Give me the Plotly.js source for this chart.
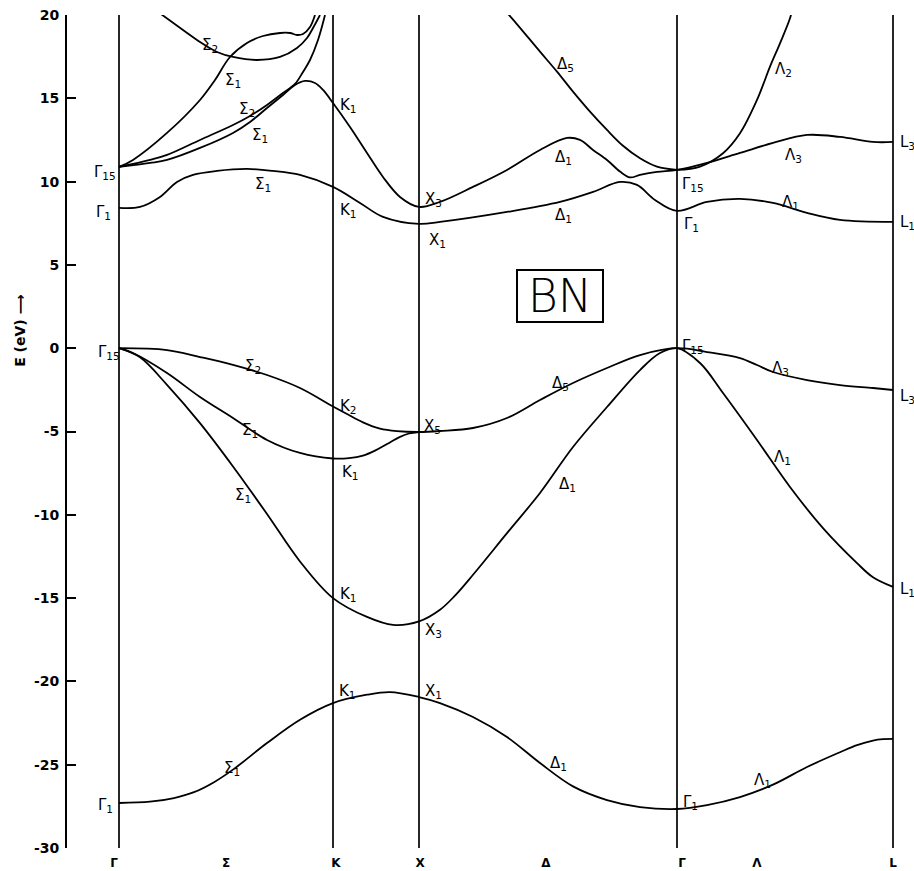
<!DOCTYPE html>
<html><head><meta charset="utf-8">
<script src="https://cdn.plot.ly/plotly-3.0.1.min.js"></script>
<style>html,body{margin:0;padding:0;background:#fff}</style>
</head><body><div id="chart" style="width:914px;height:871px"></div>
<script>
// High-symmetry points along the path (path units)
const kPoints = [0, 2.14, 3.00, 5.58, 7.74];
const xTickVals = [-0.05, 1.07, 2.17, 3.01, 4.27, 5.63, 6.38, 7.74];
const xTickText = ['Γ', 'Σ', 'K', 'X', 'Δ', 'Γ', 'Λ', 'L'];
const yTickVals = [-30, -25, -20, -15, -10, -5, 0, 5, 10, 15, 20];
const yTickText = ['-30', '-25', '-20', '-15', '-10', '-5', '0', '5', '10', '15', '20'];

// Bands (k, E in eV)
const band1K = [0,0.31,0.55,0.75,0.95,1.15,1.48,1.81,2.14,2.48,2.71,3.00,3.21,3.54,3.88,4.21,4.54,4.88,5.21,5.58,5.88,6.21,6.54,6.88,7.21,7.38,7.54,7.64,7.74];
const band1E = [-27.3,-27.22,-27.0,-26.65,-26.05,-25.25,-23.7,-22.3,-21.3,-20.8,-20.64,-20.94,-21.3,-22.14,-23.34,-24.9,-26.3,-27.12,-27.54,-27.66,-27.42,-26.94,-26.2,-25.14,-24.25,-23.82,-23.55,-23.47,-23.45];

const band2K = [0,0.21,0.48,0.81,1.14,1.48,1.81,2.14,2.48,2.74,3.00,3.21,3.36,3.54,3.88,4.21,4.54,4.88,5.21,5.41,5.58,5.81,6.04,6.38,6.71,7.04,7.38,7.54,7.74];
const band2E = [0,-0.55,-2.2,-4.5,-7.1,-9.95,-12.8,-15.0,-16.13,-16.61,-16.4,-15.7,-14.85,-13.6,-11.1,-8.69,-5.93,-3.53,-1.31,-0.29,0,-0.89,-2.69,-5.51,-8.33,-10.8,-12.9,-13.75,-14.33];

const band3K = [0,0.14,0.48,0.81,1.14,1.48,1.81,2.14,2.30,2.44,2.56,2.68,2.80,2.90,3.00];
const band3E = [0,-0.29,-1.49,-2.93,-4.19,-5.51,-6.29,-6.62,-6.6,-6.45,-6.15,-5.75,-5.35,-5.12,-5.03];

const band4K = [0,0.48,0.81,1.14,1.48,1.81,2.14,2.28,2.44,2.61,2.78,3.00,3.21,3.54,3.88,4.21,4.54,4.88,5.21,5.58,5.88,6.21,6.38,6.54,6.88,7.21,7.54,7.74];
const band4E = [0,-0.11,-0.53,-1.0,-1.61,-2.39,-3.5,-3.95,-4.45,-4.83,-4.98,-5.03,-4.97,-4.79,-4.19,-3.11,-2.09,-1.19,-0.41,0,-0.23,-0.59,-1.01,-1.43,-1.91,-2.21,-2.39,-2.51];

const band5K = [0,0.21,0.41,0.58,0.74,0.98,1.28,1.54,1.81,2.14,2.41,2.64,3.00,3.21,3.88,4.41,4.74,5.01,5.18,5.36,5.58,5.88,6.21,6.54,6.88,7.21,7.74];
const band5E = [8.42,8.48,9.08,9.98,10.4,10.64,10.76,10.64,10.4,9.68,8.72,7.88,7.46,7.58,8.18,8.78,9.38,9.98,9.8,8.9,8.24,8.78,8.96,8.72,8.12,7.7,7.58];

const band6K = [0,0.31,0.48,0.81,1.14,1.31,1.48,1.64,1.76,1.86,1.96,2.04,2.14,2.31,2.48,2.64,2.81,3.00,3.21,3.54,3.88,4.21,4.48,4.61,4.74,4.88,5.01,5.11,5.21,5.38,5.58,5.88,6.21,6.54,6.88,7.21,7.54,7.74];
const band6E = [10.88,11.12,11.3,12.02,12.92,13.58,14.42,15.2,15.8,16.04,15.92,15.5,14.72,13.28,11.72,10.28,9.08,8.48,8.78,9.68,10.7,11.9,12.62,12.5,11.9,11.3,10.6,10.25,10.4,10.58,10.7,11.12,11.72,12.32,12.8,12.68,12.38,12.38];

const band7K = [0,0.31,0.48,0.81,1.14,1.31,1.48,1.64,1.76,1.84,1.91,1.99,2.06];
const band7E = [10.88,11.3,11.6,12.5,13.4,13.94,14.6,15.32,15.86,16.58,17.3,18.5,20.0];

const band8K = [0,0.14,0.48,0.81,0.96,1.11,1.28,1.44,1.61,1.71,1.78,1.84,1.91,1.96];
const band8E = [10.88,11.3,12.92,14.9,16.1,17.48,18.32,18.74,18.92,18.92,18.8,18.86,19.28,20.0];

const band9K = [0.41,0.64,0.81,0.98,1.14,1.38,1.61,1.78,1.88,1.94,2.01];
const band9E = [20.1,19.1,18.38,17.78,17.48,17.3,17.48,18.02,18.62,19.22,20.0];

const band10K = [3.87,3.93,4.21,4.38,4.54,4.71,4.88,5.04,5.21,5.38,5.58];
const band10E = [20.2,19.8,17.8,16.6,15.4,14.2,13.1,12.15,11.4,10.9,10.7];

const band11K = [5.58,5.81,6.04,6.21,6.38,6.51,6.61,6.71,6.73];
const band11E = [10.7,10.9,11.7,12.9,14.9,16.9,18.3,19.8,20.3];

// Symmetry labels
const labelText = ['Σ<sub>2</sub>','Σ<sub>1</sub>','Σ<sub>2</sub>','Σ<sub>1</sub>','Σ<sub>1</sub>','Γ<sub>15</sub>','Γ<sub>1</sub>','K<sub>1</sub>','K<sub>1</sub>','X<sub>3</sub>','X<sub>1</sub>','Δ<sub>5</sub>','Δ<sub>1</sub>','Δ<sub>1</sub>','Λ<sub>2</sub>','Γ<sub>15</sub>','Γ<sub>1</sub>','Λ<sub>3</sub>','Λ<sub>1</sub>','L<sub>3</sub>','L<sub>1</sub>',
  'Γ<sub>15</sub>','Σ<sub>2</sub>','K<sub>2</sub>','X<sub>5</sub>','Σ<sub>1</sub>','K<sub>1</sub>','Σ<sub>1</sub>','K<sub>1</sub>','Γ<sub>15</sub>','Δ<sub>5</sub>','Λ<sub>3</sub>','Δ<sub>1</sub>','Λ<sub>1</sub>','L<sub>3</sub>','L<sub>1</sub>',
  'X<sub>3</sub>','K<sub>1</sub>','X<sub>1</sub>','Σ<sub>1</sub>','Γ<sub>1</sub>','Δ<sub>1</sub>','Λ<sub>1</sub>','Γ<sub>1</sub>'];
const labelK = [0.81,1.04,1.18,1.31,1.34,-0.27,-0.25,2.19,2.19,3.04,3.08,4.36,4.34,4.34,6.54,5.61,5.63,6.64,6.61,7.79,7.79,
  -0.23,1.24,2.19,3.03,1.21,2.21,1.14,2.19,5.61,4.31,6.51,4.38,6.53,7.79,7.79,
  3.04,2.18,3.04,1.03,-0.23,4.29,6.33,5.62];
const labelE = [18.32,16.22,14.48,12.92,9.98,10.7,8.3,14.72,8.42,9.08,6.67,17.18,11.6,8.12,16.88,9.98,7.58,11.72,8.9,12.5,7.7,
  -0.1,-0.89,-3.29,-4.49,-4.73,-7.31,-8.69,-14.63,0.31,-1.91,-1.01,-8.03,-6.41,-2.69,-14.33,
  -16.79,-20.4,-20.4,-25.02,-27.24,-24.72,-25.74,-27.06];

const bands = [[band1K,band1E],[band2K,band2E],[band3K,band3E],[band4K,band4E],[band5K,band5E],[band6K,band6E],
  [band7K,band7E],[band8K,band8E],[band9K,band9E],[band10K,band10E],[band11K,band11E]];

const traces = [];
// vertical lines at high-symmetry points
const vx = [], vy = [];
kPoints.forEach(k => { vx.push(k, k, null); vy.push(-30, 20, null); });
traces.push({x: vx, y: vy, mode: 'lines', line: {color: '#000', width: 1.7}, hoverinfo: 'skip', showlegend: false});
bands.forEach(b => traces.push({x: b[0], y: b[1], mode: 'lines',
  line: {color: '#000', width: 1.8, shape: 'spline', smoothing: 1}, showlegend: false}));

const labelFont = {family: 'DejaVu Sans, Arial, sans-serif', size: 15, color: '#000'};
const annotations = labelText.map((t, i) => ({x: labelK[i], y: labelE[i], xref: 'x', yref: 'y', text: t,
  showarrow: false, xanchor: 'left', yanchor: 'middle', yshift: -3, font: labelFont}));
annotations.push({x: 4.405, y: 3.16, xref: 'x', yref: 'y', text: 'BN', showarrow: false,
  xanchor: 'center', yanchor: 'middle', width: 84, height: 50, borderpad: 0,
  bordercolor: '#000', borderwidth: 2,
  font: {family: 'DejaVu Sans', weight: 200, size: 46, color: '#000'}});
annotations.push({x: -0.0555, xref: 'paper', y: 1.1, yref: 'y', text: 'E (eV) ⟶', textangle: -90,
  showarrow: false, xanchor: 'center', yanchor: 'middle',
  font: {family: 'DejaVu Sans, Arial, sans-serif', size: 14, weight: 'bold', color: '#000'}});

const layout = {
  width: 914, height: 871,
  margin: {l: 67, r: 0, t: 15, b: 23},
  paper_bgcolor: '#fff', plot_bgcolor: '#fff',
  showlegend: false,
  xaxis: {range: [-0.52, 7.95], showline: false, showgrid: false, zeroline: false, ticks: '',
    tickmode: 'array', tickvals: xTickVals, ticktext: xTickText, ticklabelstandoff: 6,
    tickfont: {family: 'DejaVu Sans, Arial, sans-serif', size: 12, weight: 'bold', color: '#000'}},
  yaxis: {range: [-30, 20], showline: true, linecolor: '#000', linewidth: 2, showgrid: false, zeroline: false,
    ticks: 'inside', ticklen: 9, tickwidth: 2, tickcolor: '#000',
    tickmode: 'array', tickvals: yTickVals, ticktext: yTickText, ticklabelstandoff: 3,
    tickfont: {family: 'DejaVu Sans, Arial, sans-serif', size: 14, weight: 'bold', color: '#000'}},
  annotations: annotations
};
Plotly.newPlot('chart', traces, layout, {staticPlot: true, displayModeBar: false});
</script></body></html>
